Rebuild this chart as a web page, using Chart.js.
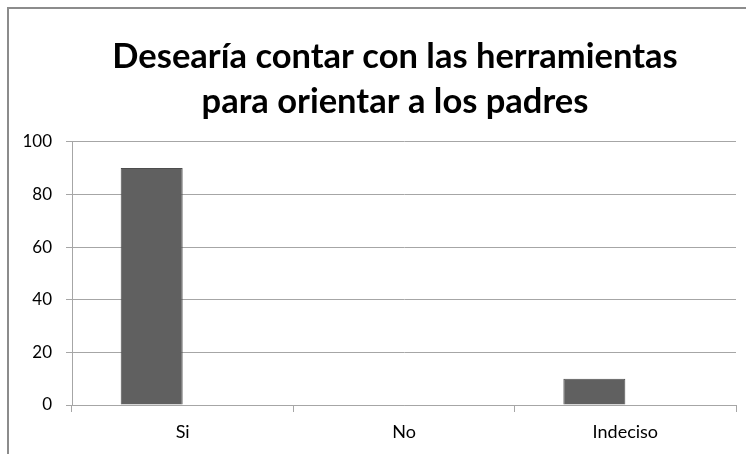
<!DOCTYPE html>
<html>
<head>
<meta charset="utf-8">
<script src="https://cdn.jsdelivr.net/npm/chart.js@4/dist/chart.umd.min.js"></script>
<style>
  html, body { margin: 0; padding: 0; background: #fff; }
  #wrap { width: 746px; height: 454px; }
</style>
</head>
<body>
<div id="wrap"><canvas id="chart" width="746" height="454"></canvas></div>
<script>
// data
const categories = ['Si', 'No', 'Indeciso'];
const respuestas = [90, 0, 10];
const vacia = [null, null, null]; // second (empty) series, as in the Excel original
const titleLines = ['Desearía contar con las herramientas', 'para orientar a los padres'];

const gridGray = '#a6a6a6';
const font = 'Lato, "Open Sans", sans-serif';

// gray frame at top and left, like the pasted Excel chart
const framePlugin = {
    id: 'frame',
    afterLayout(chart) {
        // title in the original is centred a bit right of the canvas centre
        if (chart.titleBlock) chart.titleBlock.left = 54;
    },
    beforeDraw(chart) {
        const ctx = chart.ctx;
        ctx.save();
        ctx.strokeStyle = '#8c8c8c';
        ctx.lineWidth = 2;
        ctx.beginPath();
        ctx.moveTo(746, 8);
        ctx.lineTo(8, 8);
        ctx.lineTo(8, 454);
        ctx.stroke();
        ctx.restore();
    }
};

new Chart(document.getElementById('chart'), {
    type: 'bar',
    data: {
        labels: categories,
        datasets: [
            {
                label: 'Serie 1',
                data: respuestas,
                backgroundColor: '#606060',
                borderColor: '#4d4d4d',
                borderWidth: 1,
                barPercentage: 1,
                categoryPercentage: 0.56
            },
            {
                label: 'Serie 2',
                data: vacia,
                backgroundColor: '#606060',
                barPercentage: 1,
                categoryPercentage: 0.56
            }
        ]
    },
    options: {
        responsive: false,
        animation: false,
        layout: { padding: { left: 0, right: 10, top: 0, bottom: 0 } },
        plugins: {
            legend: { display: false },
            tooltip: { enabled: false },
            title: {
                display: true,
                text: titleLines,
                color: '#000',
                font: { family: font, size: 34.5, weight: 'bold', lineHeight: 1.3 },
                padding: { top: 34.5, bottom: 17.5 }
            }
        },
        scales: {
            x: {
                grid: {
                    drawOnChartArea: false,
                    drawTicks: true,
                    tickLength: 7,
                    color: gridGray
                },
                border: { color: gridGray },
                ticks: { color: '#000', font: { family: font, size: 18 }, padding: 9 },
                afterFit(scale) { scale.height = 49; }
            },
            y: {
                min: 0,
                max: 100,
                ticks: { stepSize: 20, color: '#000', font: { family: font, size: 17 }, padding: 14 },
                grid: { color: gridGray, tickLength: 6 },
                border: { color: gridGray },
                afterFit(scale) { scale.width = 72; }
            }
        }
    },
    plugins: [framePlugin]
});
</script>
</body>
</html>
